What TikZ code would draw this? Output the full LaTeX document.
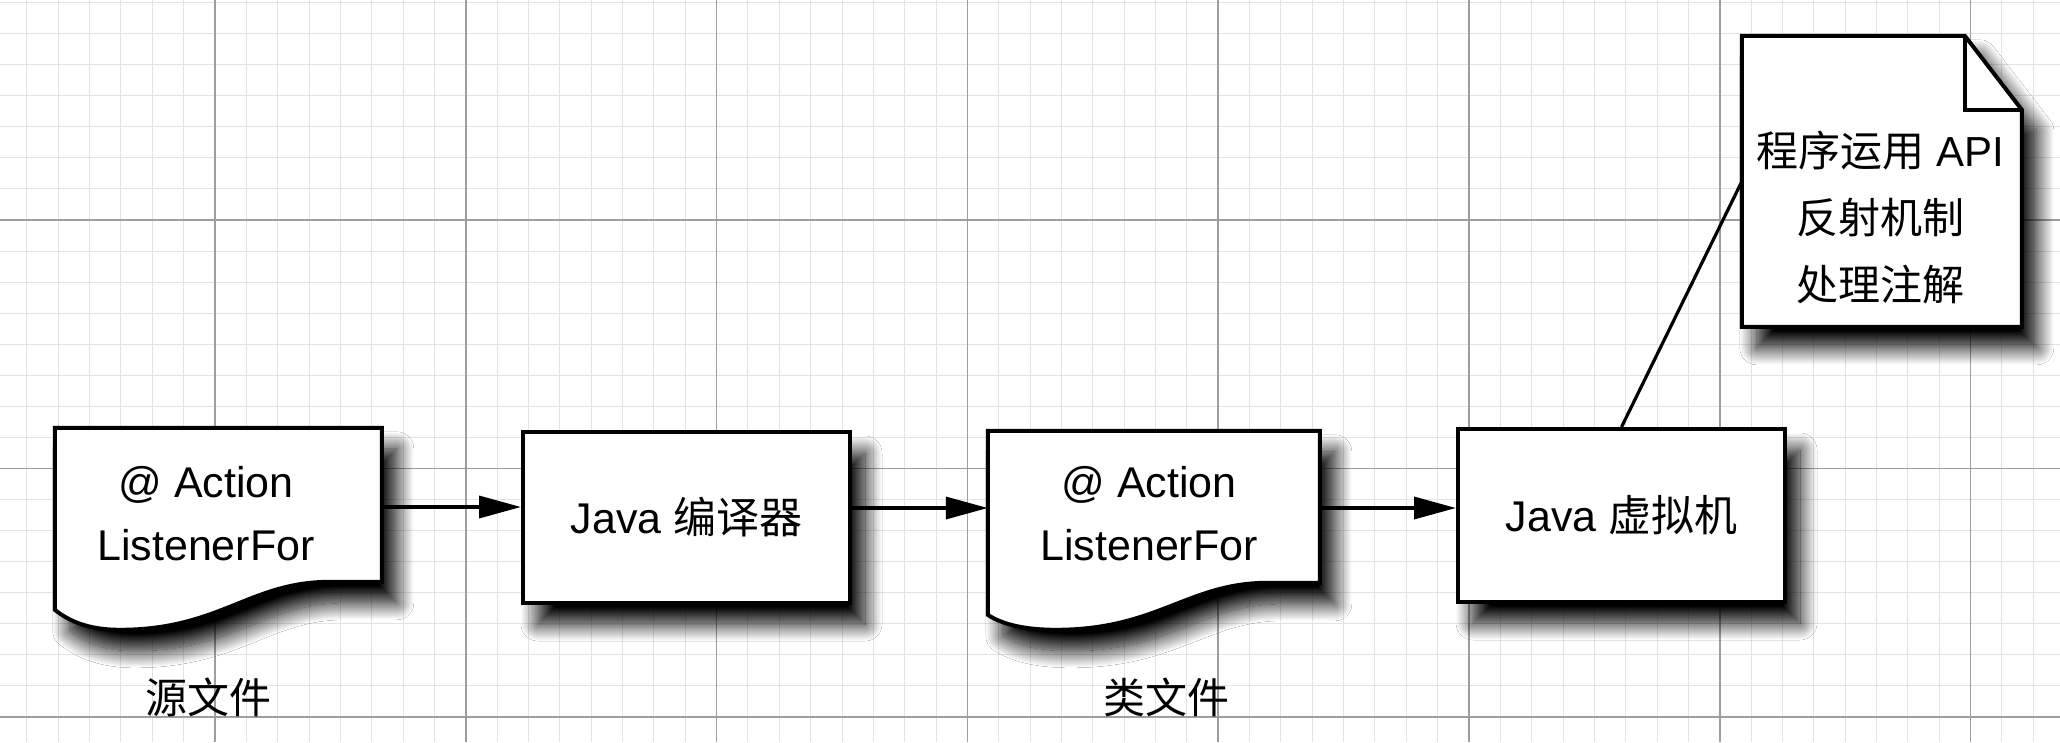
\documentclass[tikz,border=0pt]{standalone}
\usepackage{fontspec}
\setmainfont{Liberation Sans}
\newfontfamily\cjk{Noto Sans CJK SC}
\usetikzlibrary{arrows.meta,shadows.blur,calc}
\begin{document}
\begin{tikzpicture}[x=1pt,y=-1pt,
  majorgrid/.style={draw=black!38, line width=1.6pt},
  minorgrid/.style={draw=black!11, line width=1pt},
  shadowed/.style={blur shadow={shadow xshift=15pt, shadow yshift=-21pt, shadow blur radius=17pt, shadow blur steps=24, shadow opacity=100}},
  shapeline/.style={draw=black, line width=4pt, fill=white, line join=miter},
  boxnode/.style={shapeline, shadowed, rectangle, inner sep=0pt, font=\fontsize{43}{63}\selectfont},
  area/.style={rectangle, inner sep=0pt, draw=none},
  txt/.style={inner sep=0pt, align=center, font=\fontsize{43}{63}\selectfont},
  notetxt/.style={inner sep=0pt, align=center, font=\fontsize{42}{67}\selectfont},
  flow/.style={line width=3.5pt, -{Triangle[length=42pt,width=22pt]}},
  link/.style={line width=3.2pt},
]
\useasboundingbox (0,0) rectangle (2060,742);
\fill[white] (0,0) rectangle (2060,742);
% grid background
\begin{scope}
\clip (0,0) rectangle (2060,742);
\foreach \i in {-8,...,60} \draw[minorgrid] ({215+31.35*\i},0) -- ++(0,742);
\foreach \j in {-8,...,17} \draw[minorgrid] (0,{220+31.06*\j}) -- ++(2060,0);
\foreach \i in {-1,...,7} \draw[majorgrid] ({215+250.8*\i},0) -- ++(0,742);
\foreach \j in {-1,...,2} \draw[majorgrid] (0,{220+248.5*\j}) -- ++(2060,0);
\end{scope}

% named areas
\node[area, minimum width=327pt, minimum height=158pt] (doc1) at (218.5,507) {};
\node[area, minimum width=332pt, minimum height=154pt] (doc2) at (1154,508) {};
\node[area, minimum width=280pt, minimum height=291pt] (note) at (1882,181.5) {};

% virtual machine box and its link to the note
\node[boxnode, minimum width=327pt, minimum height=173pt] (box3) at (1621.5,515.5) {Java {\cjk 虚拟机}};
\draw[link] (box3.north) -- (note.west);

% document shapes
\begin{scope}[shift={(doc1.north west)}]
\path[shapeline, shadowed] (0,0) -- (327,0) -- (327,154) -- (275,154)
  .. controls (195,154) and (165,202) .. (65,202)
  .. controls (35,202) and (15,194) .. (0,182) -- cycle;
\end{scope}
\begin{scope}[shift={(doc2.north west)}]
\path[shapeline, shadowed] (0,0) -- (332,0) -- (332,152) -- (280,152)
  .. controls (200,152) and (170,199) .. (68,199)
  .. controls (38,199) and (15,194) .. (0,184) -- cycle;
\end{scope}
\begin{scope}[shift={(note.north west)}]
\path[shapeline, shadowed] (0,0) -- (223,0) -- (280,74) -- (280,291) -- (0,291) -- cycle;
\draw[line width=4pt, line join=miter] (223,0) -- (223,74) -- (280,74);
\end{scope}

\node[boxnode, minimum width=327pt, minimum height=171pt] (box2) at (686.5,517.5) {Java {\cjk 编译器}};

% texts
\node[txt] (doc1txt) at (206,514) {@ Action\\ListenerFor};
\node[txt] (doc2txt) at (1149,514) {@ Action\\ListenerFor};
\node[txt, font=\fontsize{42}{50}\selectfont\cjk] (lab1) at (208,697) {源文件};
\node[txt, font=\fontsize{42}{50}\selectfont\cjk] (lab2) at (1166,697) {类文件};
\node[notetxt] (notetext) at (1880,217) {{\cjk 程序运用} API\\{\cjk 反射机制}\\{\cjk 处理注解}};

% arrows
\draw[flow] (doc1.east) -- (doc1.east -| box2.west);
\draw[flow] (box2.east |- doc2.west) -- (doc2.west);
\draw[flow] (doc2.east) -- (doc2.east -| box3.west);
\end{tikzpicture}
\end{document}
